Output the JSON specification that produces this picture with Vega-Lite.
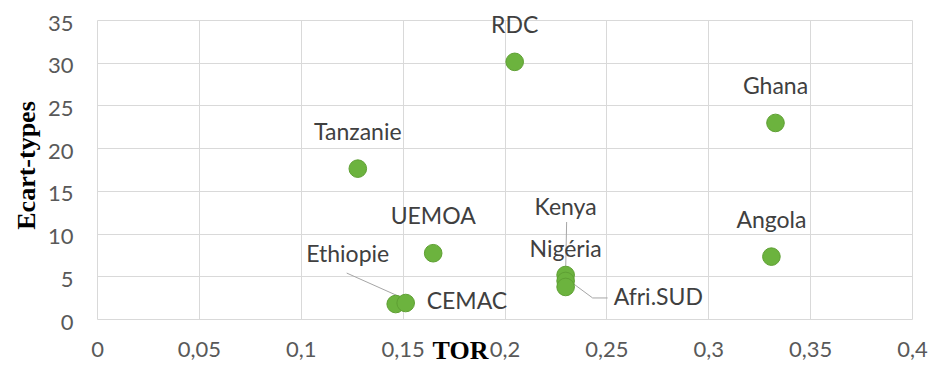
{
  "$schema": "https://vega.github.io/schema/vega-lite/v6.json",
  "width": 815,
  "height": 299,
  "autosize": {"type": "none"},
  "padding": {"left": 97, "top": 20, "right": 33, "bottom": 56},
  "background": "white",
  "config": {"view": {"stroke": null}, "font": "Lato"},
  "data": {
    "values": [
      {"pays": "RDC", "tor": 0.205, "ecart": 30.1},
      {"pays": "Ghana", "tor": 0.333, "ecart": 22.95},
      {"pays": "Tanzanie", "tor": 0.128, "ecart": 17.6},
      {"pays": "UEMOA", "tor": 0.165, "ecart": 7.7},
      {"pays": "Angola", "tor": 0.331, "ecart": 7.3},
      {"pays": "Kenya", "tor": 0.230, "ecart": 5.15},
      {"pays": "Nigéria", "tor": 0.230, "ecart": 4.45},
      {"pays": "Afri.SUD", "tor": 0.230, "ecart": 3.75},
      {"pays": "Ethiopie", "tor": 0.1466, "ecart": 1.75},
      {"pays": "CEMAC", "tor": 0.1515, "ecart": 1.87}
    ]
  },
  "encoding": {
    "x": {
      "field": "tor", "type": "quantitative",
      "scale": {"domain": [0, 0.4], "nice": false},
      "axis": {
        "title": "TOR",
        "values": [0, 0.05, 0.1, 0.15, 0.2, 0.25, 0.3, 0.35, 0.4],
        "labelExpr": "replace(format(datum.value, '~g'), '.', ',')",
        "grid": true, "gridColor": "#D9D9D9", "gridWidth": 1,
        "domain": false, "ticks": false, "tickSize": 0,
        "labelFont": "Lato", "labelFontSize": 22, "labelColor": "#595959",
        "labelPadding": 30, "labelBaseline": "middle", "labelFlush": false,
        "titleFont": "Liberation Serif", "titleFontSize": 26, "titleFontWeight": "bold",
        "titleColor": "#000000", "titleX": 363, "titleY": 31,
        "titleAlign": "center", "titleBaseline": "middle", "titleAnchor": null
      }
    },
    "y": {
      "field": "ecart", "type": "quantitative",
      "scale": {"domain": [0, 35], "nice": false},
      "axis": {
        "title": "Ecart-types",
        "values": [0, 5, 10, 15, 20, 25, 30, 35],
        "grid": true, "gridColor": "#D9D9D9", "gridWidth": 1,
        "domain": false, "ticks": false, "tickSize": 0,
        "labelFont": "Lato", "labelFontSize": 22, "labelColor": "#595959",
        "labelPadding": 24, "labelBaseline": "middle", "labelOffset": 3,
        "titleFont": "Liberation Serif", "titleFontSize": 26, "titleFontWeight": "bold",
        "titleColor": "#000000", "titleX": -71, "titleY": 145,
        "titleAlign": "center", "titleBaseline": "middle", "titleAngle": -90
      }
    }
  },
  "layer": [
    {
      "transform": [{"filter": "datum.pays === 'Kenya'"}],
      "mark": {"type": "rule", "color": "#A6A6A6", "strokeWidth": 1, "xOffset": 1, "yOffset": -53, "x2Offset": 0, "y2Offset": -3},
      "encoding": {"x2": {"field": "tor"}, "y2": {"field": "ecart"}}
    },
    {
      "transform": [{"filter": "datum.pays === 'Ethiopie'"}],
      "mark": {"type": "rule", "color": "#A6A6A6", "strokeWidth": 1, "xOffset": -49, "yOffset": -31, "x2Offset": 7, "y2Offset": -6},
      "encoding": {"x2": {"field": "tor"}, "y2": {"field": "ecart"}}
    },
    {
      "transform": [{"filter": "datum.pays === 'Afri.SUD'"}],
      "mark": {"type": "rule", "color": "#A6A6A6", "strokeWidth": 1, "xOffset": 4, "yOffset": -6, "x2Offset": 27, "y2Offset": 11},
      "encoding": {"x2": {"field": "tor"}, "y2": {"field": "ecart"}}
    },
    {
      "transform": [{"filter": "datum.pays === 'Afri.SUD'"}],
      "mark": {"type": "rule", "color": "#A6A6A6", "strokeWidth": 1, "xOffset": 27, "yOffset": 11, "x2Offset": 42, "y2Offset": 11},
      "encoding": {"x2": {"field": "tor"}, "y2": {"field": "ecart"}}
    },
    {
      "mark": {"type": "circle", "size": 310, "fill": "#6CB33E", "opacity": 1, "stroke": "#5FA034", "strokeWidth": 1}
    },
    {
      "transform": [{"filter": "indexof(['RDC','Ghana','Tanzanie','UEMOA','Angola'], datum.pays) >= 0"}],
      "mark": {"type": "text", "font": "Lato", "fontSize": 23, "color": "#404040", "align": "center", "baseline": "middle", "dy": -36},
      "encoding": {"text": {"field": "pays"}}
    },
    {
      "transform": [{"filter": "datum.pays === 'Kenya'"}],
      "mark": {"type": "text", "font": "Lato", "fontSize": 23, "color": "#404040", "align": "center", "baseline": "middle", "dy": -67},
      "encoding": {"text": {"field": "pays"}}
    },
    {
      "transform": [{"filter": "datum.pays === 'Nigéria'"}],
      "mark": {"type": "text", "font": "Lato", "fontSize": 23, "color": "#404040", "align": "center", "baseline": "middle", "dy": -31},
      "encoding": {"text": {"field": "pays"}}
    },
    {
      "transform": [{"filter": "datum.pays === 'Afri.SUD'"}],
      "mark": {"type": "text", "font": "Lato", "fontSize": 23, "color": "#404040", "align": "left", "baseline": "middle", "dx": 48, "dy": 11},
      "encoding": {"text": {"field": "pays"}}
    },
    {
      "transform": [{"filter": "datum.pays === 'CEMAC'"}],
      "mark": {"type": "text", "font": "Lato", "fontSize": 23, "color": "#404040", "align": "left", "baseline": "middle", "dx": 21, "dy": -1},
      "encoding": {"text": {"field": "pays"}}
    },
    {
      "transform": [{"filter": "datum.pays === 'Ethiopie'"}],
      "mark": {"type": "text", "font": "Lato", "fontSize": 23, "color": "#404040", "align": "center", "baseline": "middle", "dx": -48, "dy": -49},
      "encoding": {"text": {"field": "pays"}}
    }
  ]
}
